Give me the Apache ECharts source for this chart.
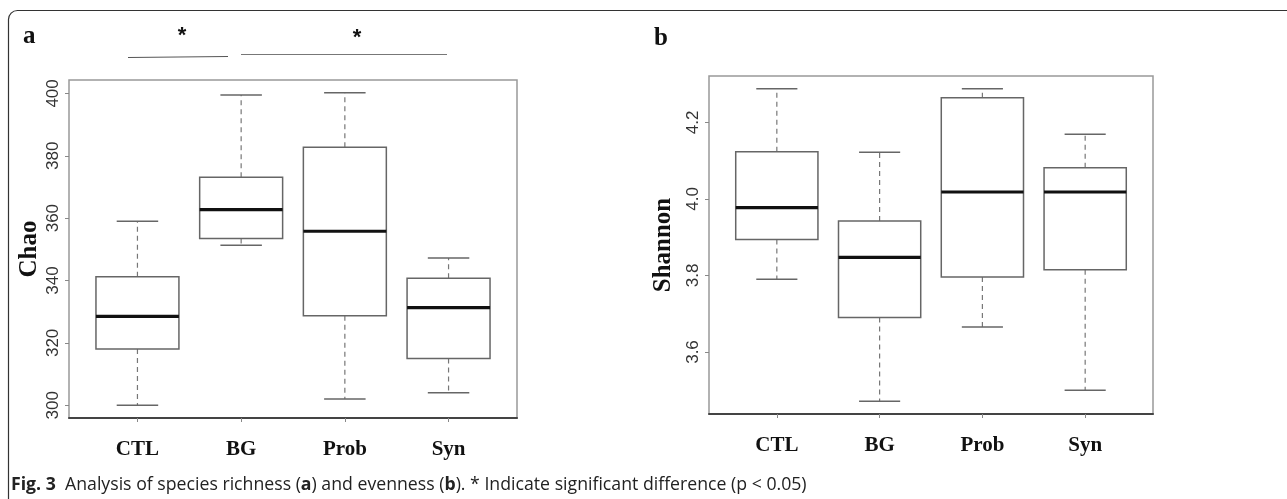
<!DOCTYPE html>
<html>
<head>
<meta charset="utf-8">
<script src="https://cdn.jsdelivr.net/npm/echarts@6/dist/echarts.min.js"></script>
<style>
html, body { margin: 0; padding: 0; background: #fff; }
#chart { width: 1287px; height: 499px; }
</style>
</head>
<body>
<div id="chart"></div>
<script>
// groups
var categories = ['CTL', 'BG', 'Prob', 'Syn'];

// Chao (panel a): lower whisker, Q1, median, Q3, upper whisker
var chaoLow = [300, 351.3, 302, 304];
var chaoQ1 = [318, 353.5, 328.7, 315];
var chaoMed = [328.5, 362.7, 355.8, 331.3];
var chaoQ3 = [341.2, 373.1, 382.7, 340.7];
var chaoHigh = [359, 399.5, 400.2, 347.2];
var chaoTicks = [300, 320, 340, 360, 380, 400];

// Shannon (panel b)
var shanLow = [3.790, 3.471, 3.665, 3.500];
var shanQ1 = [3.894, 3.690, 3.796, 3.815];
var shanMed = [3.977, 3.847, 4.018, 4.018];
var shanQ3 = [4.123, 3.942, 4.264, 4.081];
var shanHigh = [4.288, 4.122, 4.288, 4.169];
var shanTicks = [3.6, 3.8, 4.0, 4.2];

var catTicks = [1, 2, 3, 4];

function buildData(lo, q1, med, q3, hi) {
	var out = [];
	for (var i = 0; i < categories.length; i++) {
		out.push([i + 1, lo[i], q1[i], med[i], q3[i], hi[i]]);
	}
	return out;
}

// draws one R-style box: dashed whiskers, caps, white box, thick median
function renderBox(params, api) {
	var x = api.value(0);
	var lo = api.coord([x, api.value(1)]);
	var q1 = api.coord([x, api.value(2)]);
	var med = api.coord([x, api.value(3)]);
	var q3 = api.coord([x, api.value(4)]);
	var hi = api.coord([x, api.value(5)]);
	var bw = api.size([0.8, 0])[0];
	var cw = api.size([0.4, 0])[0];
	var cx = med[0];
	var whisk = { stroke: '#777', lineWidth: 1.2, lineDash: [5, 4] };
	var cap = { stroke: '#666', lineWidth: 1.5 };
	return {
		type: 'group',
		children: [
			{ type: 'line', shape: { x1: cx, y1: q3[1], x2: cx, y2: hi[1] }, style: whisk },
			{ type: 'line', shape: { x1: cx, y1: q1[1], x2: cx, y2: lo[1] }, style: whisk },
			{ type: 'line', shape: { x1: cx - cw / 2, y1: hi[1], x2: cx + cw / 2, y2: hi[1] }, style: cap },
			{ type: 'line', shape: { x1: cx - cw / 2, y1: lo[1], x2: cx + cw / 2, y2: lo[1] }, style: cap },
			{ type: 'rect', shape: { x: cx - bw / 2, y: q3[1], width: bw, height: q1[1] - q3[1] },
				style: { fill: '#fff', stroke: '#666', lineWidth: 1.5 } },
			{ type: 'line', shape: { x1: cx - bw / 2, y1: med[1], x2: cx + bw / 2, y2: med[1] },
				style: { stroke: '#111', lineWidth: 3.2 } }
		]
	};
}

function makeX(idx) {
	return {
		gridIndex: idx,
		type: 'value',
		min: 0.34,
		max: 4.66,
		splitLine: { show: false },
		axisLine: { show: true, onZero: false, lineStyle: { color: '#444', width: 2 } },
		axisTick: { show: true, length: 4, customValues: catTicks, lineStyle: { color: '#888' } },
		axisLabel: {
			customValues: catTicks,
			margin: 21,
			fontFamily: 'Liberation Serif',
			fontWeight: 'bold',
			fontSize: 21,
			color: '#111',
			formatter: function(v) { return categories[Math.round(v) - 1]; }
		}
	};
}

function makeY(idx, min, max, ticks, name, gap, digits) {
	return {
		gridIndex: idx,
		type: 'value',
		min: min,
		max: max,
		name: name,
		nameLocation: 'middle',
		nameGap: gap,
		nameTextStyle: { fontFamily: 'Liberation Serif', fontWeight: 'bold', fontSize: 25, color: '#111' },
		splitLine: { show: false },
		axisLine: { show: false },
		axisTick: { show: true, length: 4, customValues: ticks, lineStyle: { color: '#888' } },
		axisLabel: {
			customValues: ticks,
			rotate: 90,
			margin: 7,
			fontFamily: 'Liberation Sans',
			fontSize: 17,
			color: '#333',
			formatter: function(v) { return v.toFixed(digits); }
		}
	};
}

var chart = echarts.init(document.getElementById('chart'), null, { renderer: 'canvas' });

var option = {
	animation: false,
	backgroundColor: '#fff',
	grid: [
		{ left: 69, top: 80, width: 448, height: 338, show: true, borderColor: '#999', borderWidth: 1.5, backgroundColor: 'transparent' },
		{ left: 709, top: 76, width: 444, height: 338, show: true, borderColor: '#999', borderWidth: 1.5, backgroundColor: 'transparent' }
	],
	xAxis: [makeX(0), makeX(1)],
	yAxis: [
		makeY(0, 295.9, 404.3, chaoTicks, 'Chao', 27, 0),
		makeY(1, 3.438, 4.321, shanTicks, 'Shannon', 33, 1)
	],
	series: [
		{
			name: 'Chao', type: 'custom', xAxisIndex: 0, yAxisIndex: 0,
			renderItem: renderBox,
			encode: { x: 0, y: [1, 2, 3, 4, 5] },
			data: buildData(chaoLow, chaoQ1, chaoMed, chaoQ3, chaoHigh)
		},
		{
			name: 'Shannon', type: 'custom', xAxisIndex: 1, yAxisIndex: 1,
			renderItem: renderBox,
			encode: { x: 0, y: [1, 2, 3, 4, 5] },
			data: buildData(shanLow, shanQ1, shanMed, shanQ3, shanHigh)
		}
	],
	graphic: [
		// figure frame
		{ type: 'rect', shape: { x: 8.5, y: 10.5, width: 1400, height: 600, r: 9 },
			style: { fill: 'none', stroke: '#333', lineWidth: 1.2 }, silent: true },
		// panel letters
		{ type: 'text', left: 23, top: 24, style: { text: 'a', font: 'bold 25px "Liberation Serif"', fill: '#111' } },
		{ type: 'text', left: 654, top: 26, style: { text: 'b', font: 'bold 25px "Liberation Serif"', fill: '#111' } },
		// significance marks
		{ type: 'line', shape: { x1: 128, y1: 57.5, x2: 228, y2: 56.5 }, style: { stroke: '#555', lineWidth: 1.2 } },
		{ type: 'line', shape: { x1: 241, y1: 54.5, x2: 447, y2: 54.5 }, style: { stroke: '#777', lineWidth: 1.2 } },
		{ type: 'text', x: 182, y: 36, style: { text: '*', font: 'bold 22px "Liberation Sans"', fill: '#111', align: 'center', verticalAlign: 'middle' } },
		{ type: 'text', x: 357, y: 38, style: { text: '*', font: 'bold 22px "Liberation Sans"', fill: '#111', align: 'center', verticalAlign: 'middle' } },
		// caption
		{ type: 'text', x: 11, y: 485, style: {
			text: '{b|Fig. 3}  Analysis of species richness ({b|a}) and evenness ({b|b}). * Indicate significant difference (p < 0.05)',
			font: '17.7px "Open Sans"', fill: '#222', verticalAlign: 'middle',
			rich: {
				b: { fontWeight: 'bold', fontFamily: 'Open Sans', fontSize: 17.7, fill: '#222' }
			}
		} }
	]
};

chart.setOption(option);
</script>
</body>
</html>
